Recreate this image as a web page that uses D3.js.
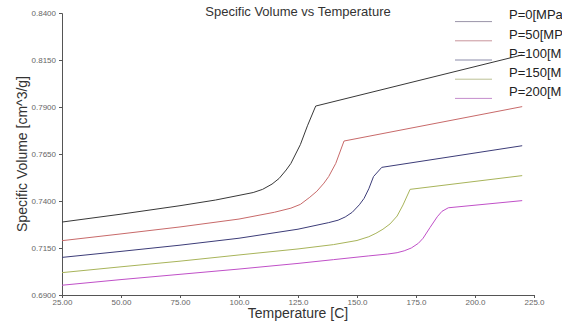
<!DOCTYPE html>
<html lang="en">
<head>
<meta charset="utf-8">
<title>Specific Volume vs Temperature</title>
<script src="https://d3js.org/d3.v7.min.js"></script>
<style>
  body { margin: 0; background: white; }
  svg { display: block; font-family: "Liberation Sans", Arial, sans-serif; }
</style>
</head>
<body>
<div id="chart"></div>
<script>
// curves: [temperature C, specific volume cm^3/g]
const p0 = [[25,0.7288],[50,0.7330],[75,0.7375],[90,0.7405],[100,0.7430],[106,0.7445],[110,0.7462],[114,0.7490],[117,0.7520],[120,0.7565],[122,0.7600],[124,0.7650],[126,0.7700],[129,0.7800],[132.5,0.7905],[220,0.8177]];
const p50 = [[25,0.7189],[50,0.7225],[75,0.7262],[100,0.7304],[115,0.7340],[122,0.7362],[126,0.7382],[130,0.7420],[133,0.7452],[136,0.7495],[138,0.7530],[141,0.7600],[144.5,0.7719],[220,0.7902]];
const p100 = [[25,0.7100],[50,0.7132],[75,0.7165],[100,0.7202],[125,0.7250],[138,0.7285],[142,0.7298],[145,0.7315],[148,0.7340],[151,0.7380],[153,0.7414],[155,0.7465],[157,0.7530],[160.5,0.7579],[220,0.7694]];
const p150 = [[25,0.7019],[50,0.7050],[75,0.7080],[100,0.7113],[125,0.7145],[140,0.7168],[150,0.7190],[155,0.7210],[158,0.7228],[161,0.7250],[164,0.7278],[167,0.7320],[169.5,0.7379],[172.5,0.7462],[220,0.7535]];
const p200 = [[25,0.6952],[50,0.6982],[75,0.7010],[100,0.7038],[125,0.7068],[140,0.7088],[155,0.7108],[163,0.7118],[167,0.7125],[170,0.7135],[173,0.7150],[176,0.7175],[178,0.7202],[181,0.7260],[184,0.7316],[186,0.7345],[188.7,0.7364],[220,0.7402]];

const seriesNames = ["P=0[MPa]", "P=50[MPa]", "P=100[MPa]", "P=150[MPa]", "P=200[MPa]"];
const seriesData = [p0, p50, p100, p150, p200];
const seriesColors = ["#383838", "#c86a6a", "#3c3c78", "#a8b45a", "#c050c8"];
const legendColors = ["#9a94a8", "#c8949c", "#8a8aa8", "#bcc094", "#c48ccc"];

const xTicks = [25, 50, 75, 100, 125, 150, 175, 200, 225];
const yTicks = [0.69, 0.715, 0.74, 0.765, 0.79, 0.815, 0.84];

const width = 571, height = 323;

const svg = d3.select("#chart").append("svg")
    .attr("width", width)
    .attr("height", height);

const x = d3.scaleLinear().domain([25, 225]).range([62, 534]);
const y = d3.scaleLinear().domain([0.69, 0.84]).range([295, 13]);

// axes
const xAxis = svg.append("g")
    .attr("transform", "translate(0,295)")
    .call(d3.axisBottom(x).tickValues(xTicks).tickSize(3)
        .tickFormat(d => d < 100 ? d.toFixed(2) : d.toFixed(1)));
const yAxis = svg.append("g")
    .attr("transform", "translate(62,0)")
    .call(d3.axisLeft(y).tickValues(yTicks).tickSize(3).tickFormat(d3.format(".4f")));

[xAxis, yAxis].forEach(a => {
    a.select(".domain").attr("stroke", "#555");
    a.selectAll(".tick line").attr("stroke", "#555");
    a.selectAll("text").attr("fill", "#666").style("font-size", "8px");
});
xAxis.selectAll("text").attr("dy", "0.55em");

// lines
const line = d3.line()
    .x(d => x(d[0]))
    .y(d => y(d[1]));

seriesData.forEach((s, i) => {
    svg.append("path")
        .datum(s)
        .attr("d", line)
        .attr("fill", "none")
        .attr("stroke", seriesColors[i])
        .attr("stroke-width", 1);
});

// legend, its labels are cut off at the right like in the original
svg.append("clipPath").attr("id", "legclip")
    .append("rect").attr("x", 440).attr("y", 0).attr("width", 122).attr("height", 110);

const legend = svg.append("g").attr("clip-path", "url(#legclip)");
seriesNames.forEach((name, i) => {
    const base = 19.3 + i * 19.2;
    legend.append("line")
        .attr("x1", 455).attr("x2", 492)
        .attr("y1", base + 2.3).attr("y2", base + 2.3)
        .attr("stroke", legendColors[i])
        .attr("stroke-width", 1);
    legend.append("text")
        .attr("x", 509).attr("y", base)
        .attr("fill", "#222")
        .style("font-size", "13px")
        .text(name);
});

// titles
svg.append("text")
    .attr("x", 298).attr("y", 16)
    .attr("text-anchor", "middle")
    .attr("fill", "#333")
    .style("font-size", "13px")
    .text("Specific Volume vs Temperature");

svg.append("text")
    .attr("x", 298).attr("y", 318)
    .attr("text-anchor", "middle")
    .attr("fill", "#333")
    .style("font-size", "14px")
    .text("Temperature [C]");

svg.append("text")
    .attr("transform", "translate(27,154) rotate(-90)")
    .attr("text-anchor", "middle")
    .attr("fill", "#333")
    .style("font-size", "14px")
    .text("Specific Volume [cm^3/g]");
</script>
</body>
</html>
